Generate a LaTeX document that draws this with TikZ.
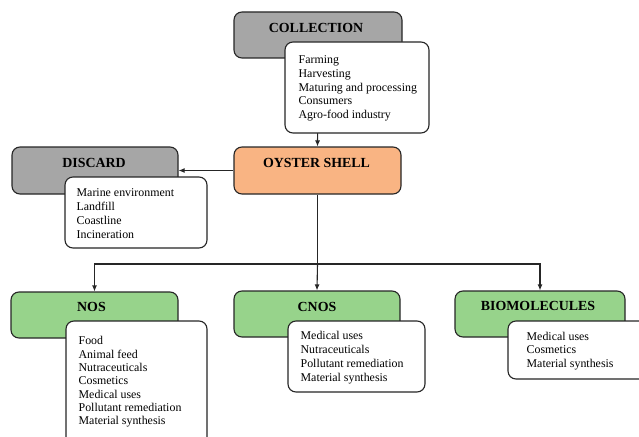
\documentclass[tikz,border=0pt]{standalone}
\usepackage{fontspec}
\setmainfont{Liberation Serif}
\usetikzlibrary{arrows.meta}
\definecolor{grayfill}{HTML}{A6A6A6}
\definecolor{orangefill}{HTML}{F9B483}
\definecolor{greenfill}{HTML}{97D38B}
\begin{document}
\begin{tikzpicture}[x=1pt,y=-1pt,
  box/.style={draw=black!85, line width=1.1pt, rounded corners=8pt, inner sep=0pt},
  whitebox/.style={box, fill=white},
  bodytext/.style={anchor=west, align=left, inner sep=0pt, font=\fontsize{11.9}{13.8}\selectfont},
  titletext/.style={font=\fontsize{13.9}{16}\selectfont\bfseries, anchor=base, inner sep=0pt},
  arr/.style={draw=black!85, line width=1.1pt, -{Latex[length=6pt,width=5pt]}},
  ln/.style={draw=black!85, line width=1.1pt}]
\useasboundingbox (0,0) rectangle (639,436);
% collection and oyster shell
\node[box, fill=grayfill, minimum width=168pt, minimum height=46pt] (coll) at (318,35) {};
\node[box, fill=orangefill, minimum width=167pt, minimum height=47pt] (oys) at (317.5,170.5) {};
\draw[arr] (coll.south) -- (oys.north);
\node[titletext] (colltitle) at (316,32.6) {COLLECTION};
\node[whitebox, minimum width=144pt, minimum height=91pt] (collw) at (357,87.5) {};
\node[bodytext] (colltext) at ([xshift=14pt,yshift=-1pt]collw.west) {Farming\\Harvesting\\Maturing and processing\\Consumers\\Agro-food industry};
\node[titletext] (oystitle) at (316.5,167.6) {OYSTER SHELL};

% discard
\node[box, fill=grayfill, minimum width=166pt, minimum height=47pt] (disc) at (95,170.5) {};
\node[titletext] (disctitle) at (94,167.6) {DISCARD};
\node[whitebox, minimum width=142pt, minimum height=71pt] (discw) at (136,212.5) {};
\node[bodytext] (disctext) at ([xshift=12pt,yshift=-1pt]discw.west) {Marine environment\\Landfill\\Coastline\\Incineration};
\draw[arr] (oys.west) -- (disc.east);

% split
\coordinate (split) at (317.5,264);
\draw[ln] (oys.south) -- (split);

% NOS
\node[box, fill=greenfill, minimum width=167pt, minimum height=46pt] (nos) at (94.5,315) {};
\node[titletext] (nostitle) at (91.5,311.6) {NOS};
\node[whitebox, minimum width=141pt, minimum height=130pt] (nosw) at (136.5,386) {};
\node[bodytext, font=\fontsize{11.9}{13.3}\selectfont] (nostext) at ([xshift=13pt,yshift=4pt]nosw.west) {Food\\Animal feed\\Nutraceuticals\\Cosmetics\\Medical uses\\Pollutant remediation\\Material synthesis};

% CNOS
\node[box, fill=greenfill, minimum width=166pt, minimum height=46pt] (cnos) at (317,314) {};
\node[titletext] (cnostitle) at (317,311.6) {CNOS};
\node[whitebox, minimum width=137pt, minimum height=71pt] (cnosw) at (356.5,356.5) {};
\node[bodytext] (cnostext) at ([xshift=13pt,yshift=-1pt]cnosw.west) {Medical uses\\Nutraceuticals\\Pollutant remediation\\Material synthesis};

% BIOMOLECULES
\node[box, fill=greenfill, minimum width=170pt, minimum height=46pt] (bio) at (540,314) {};
\node[titletext] (biotitle) at (538,310.6) {BIOMOLECULES};
\node[whitebox, minimum width=142pt, minimum height=58pt] (biow) at (579,350) {};
\node[bodytext] (biotext) at ([xshift=19pt,yshift=-1pt]biow.west) {Medical uses\\Cosmetics\\Material synthesis};

\draw[arr] (split) -| (nos.north);
\draw[arr] (split) -- (cnos.north);
\draw[arr] (split) -| (bio.north);
\end{tikzpicture}
\end{document}
